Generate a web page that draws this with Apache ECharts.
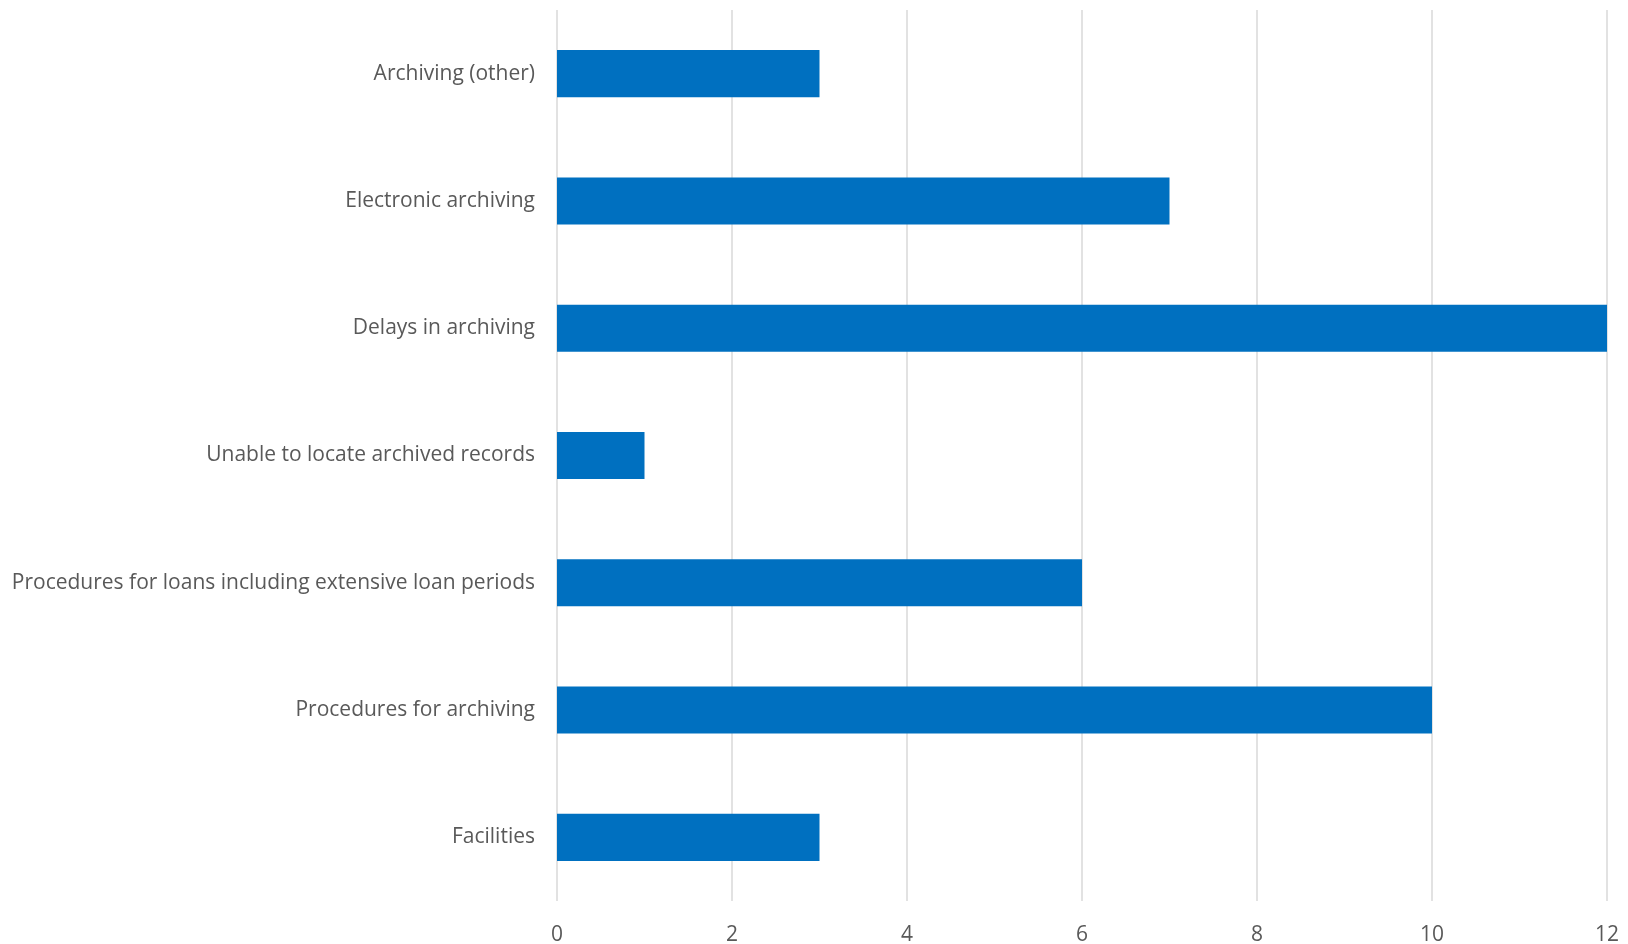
<!DOCTYPE html>
<html>
<head>
<meta charset="utf-8">
<title>Archiving issues</title>
<script src="https://cdn.jsdelivr.net/npm/echarts@6/dist/echarts.min.js"></script>
<style>
  html, body { margin: 0; padding: 0; background: #ffffff; }
  #chart { width: 1628px; height: 944px; }
</style>
</head>
<body>
<div id="chart"></div>
<script>
// Categories listed bottom to top (category axis runs upward)
const categories = [
  'Facilities',
  'Procedures for archiving',
  'Procedures for loans including extensive loan periods',
  'Unable to locate archived records',
  'Delays in archiving',
  'Electronic archiving',
  'Archiving (other)'
];
const counts = [3, 10, 6, 1, 12, 7, 3];
const xTicks = [0, 2, 4, 6, 8, 10, 12];

const chart = echarts.init(document.getElementById('chart'));
chart.setOption({
  animation: false,
  backgroundColor: '#ffffff',
  textStyle: { fontFamily: '"Open Sans", "Noto Sans", sans-serif' },
  grid: { left: 557, right: 21, top: 10, bottom: 43, containLabel: false, outerBoundsMode: 'none' },
  xAxis: {
    type: 'value',
    min: xTicks[0],
    max: xTicks[xTicks.length - 1],
    interval: xTicks[1] - xTicks[0],
    axisLine: { show: false },
    axisTick: { show: false },
    splitLine: { show: true, lineStyle: { color: '#D9D9D9', width: 1.5 } },
    axisLabel: { color: '#595959', fontSize: 21, margin: 24 }
  },
  yAxis: {
    type: 'category',
    data: categories,
    axisLine: { show: false },
    axisTick: { show: false },
    axisLabel: { color: '#595959', fontSize: 21, margin: 22 }
  },
  series: [{
    type: 'bar',
    data: counts,
    barCategoryGap: '63%',
    itemStyle: { color: '#0070C0' }
  }]
});
</script>
</body>
</html>
